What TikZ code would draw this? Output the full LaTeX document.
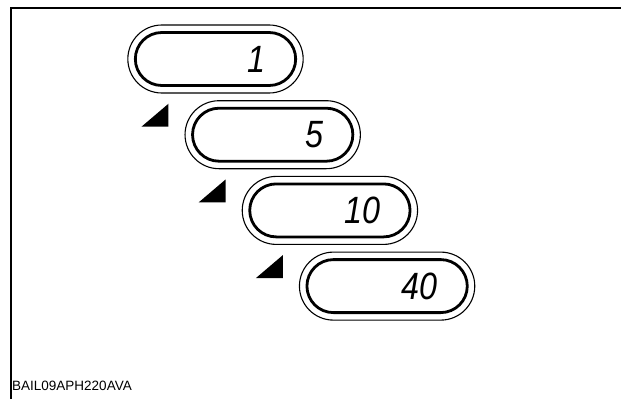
\documentclass[tikz,border=0pt]{standalone}
\usepackage{fontspec}
\newfontfamily\labelfont{Liberation Sans}
\usetikzlibrary{calc,shapes.misc,positioning}

\begin{document}
\begin{tikzpicture}[x=1pt,y=-1pt,
  lcdouter/.style={rounded rectangle,draw,line width=1.1pt,minimum width=182pt,minimum height=68pt},
  lcdinner/.style={rounded rectangle,draw,line width=2.8pt,minimum width=167pt,minimum height=53pt},
  lcddigit/.style={font=\fontsize{38}{38}\labelfont\itshape,xscale=0.85,inner sep=0pt,anchor=east}]
\useasboundingbox (0,0) rectangle (621,399);
\draw[line width=1.4pt] (11,399) -- (11,8) -- (621,8);
\foreach \v [count=\i] in {1,5,10,40}{
  \pgfmathsetmacro{\cx}{215.5+57.2*(\i-1)}\pgfmathsetmacro{\cy}{59+75.7*(\i-1)}
  \node[lcdouter] (o\i) at (\cx,\cy) {};
  \node[lcdinner] (d\i) at (o\i) {};
  \node[lcddigit] (n\i) at ($(d\i.east)+(-31,0)$) {\v};
}
\foreach \j in {2,3,4}\fill ($(o\j.west)+(-16,-8)$) -- ++(-27,0) -- ++(27,-23) -- cycle;
\node[font=\fontsize{13.5}{15}\labelfont,anchor=base west,inner sep=0pt] (code) at (12,390) {BAIL09APH220AVA};
\end{tikzpicture}
\end{document}
